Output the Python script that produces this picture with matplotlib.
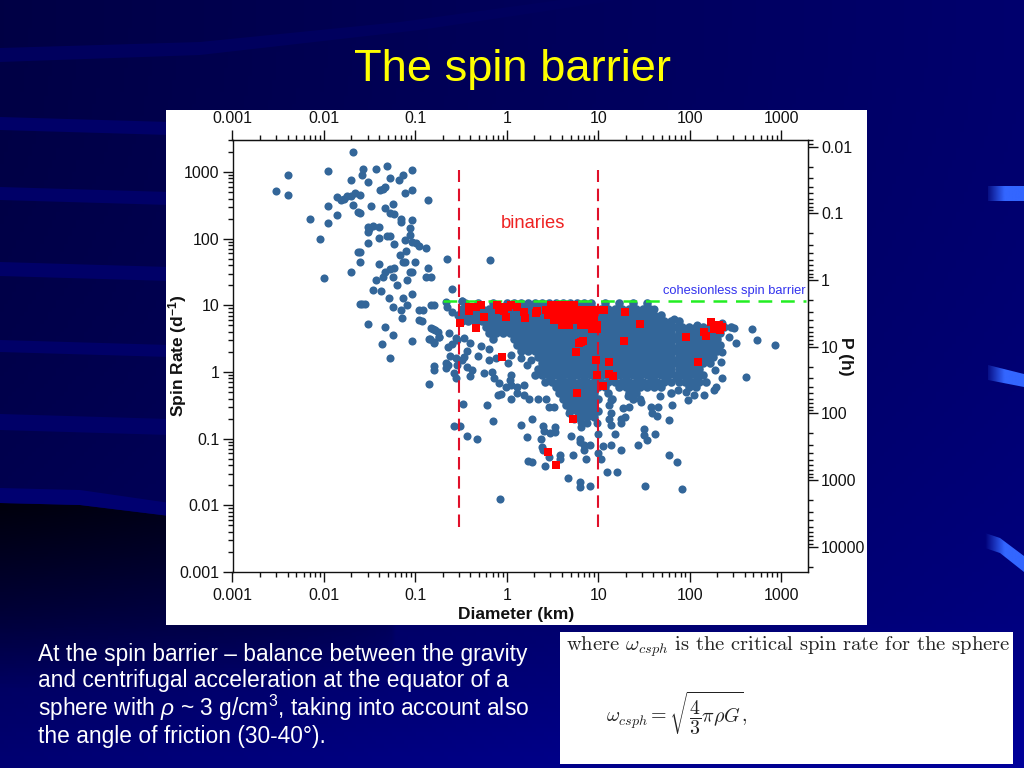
import numpy as np
import matplotlib
matplotlib.use("Agg")
import matplotlib.pyplot as plt
from matplotlib.patches import Polygon, Rectangle

plt.rcParams["font.family"] = ["Liberation Sans", "DejaVu Sans"]
plt.rcParams["mathtext.fontset"] = "custom"
plt.rcParams["mathtext.rm"] = "Liberation Sans"
plt.rcParams["mathtext.it"] = "Liberation Sans:italic"
plt.rcParams["mathtext.bf"] = "Liberation Sans:bold"

# --- isolated asteroids, small diameters (km, 1/day) ---
small_d = [0.003, 0.004, 0.004, 0.007, 0.009, 0.01, 0.011, 0.011, 0.011, 0.014, 0.014, 0.0155, 0.0167, 0.018, 0.02,
           0.022, 0.025, 0.021, 0.02, 0.026, 0.027, 0.0305, 0.037, 0.049, 0.053, 0.0655, 0.074, 0.093, 0.093, 0.078,
           0.047, 0.041, 0.044, 0.021, 0.0235, 0.025, 0.033, 0.047, 0.0575, 0.053, 0.059, 0.0705, 0.0705, 0.091, 0.139,
           0.0865, 0.03, 0.031, 0.034, 0.04, 0.04, 0.0495, 0.053, 0.03, 0.059, 0.078, 0.0865, 0.091, 0.101, 0.11,
           0.13, 0.08, 0.0685, 0.0235, 0.025, 0.025, 0.02, 0.04, 0.074, 0.078, 0.098, 0.139, 0.059, 0.053, 0.047,
           0.044, 0.0575, 0.0625, 0.082, 0.0865, 0.093, 0.13, 0.15, 0.037, 0.22, 0.65, 0.25, 0.034, 0.0425, 0.093,
           0.051, 0.074, 0.025, 0.026, 0.028, 0.0575, 0.082, 0.069, 0.11, 0.15, 0.158, 0.071, 0.11, 0.03, 0.047,
           0.0575, 0.093, 0.043, 0.053, 0.15, 0.165, 0.182, 0.14, 0.16, 0.32, 0.0305]
small_r = [513, 891, 447, 200, 98, 26, 1030, 305, 170, 224, 417, 380, 390, 430, 440,
           485, 447, 2000, 750, 890, 1110, 700, 1110, 1230, 800, 750, 890, 1060, 530, 480,
           590, 530, 560, 316, 250, 240, 305, 285, 327, 240, 232, 195, 175, 189, 375,
           143, 126, 140, 155, 148, 102, 108, 108, 87, 84, 94, 115, 90, 87, 78,
           73, 66, 56, 64, 64, 45, 32, 41, 45, 45, 44, 36, 36, 35, 32,
           27, 27, 20, 24, 32, 32, 27, 27, 24, 50, 48, 17.5, 17, 16.5, 14.6,
           13, 13, 10.3, 10.3, 10.3, 9.6, 10, 8.4, 8.4, 10, 10, 6.4, 6, 5.3, 4.8,
           3.55, 2.9, 2.6, 1.6, 4.5, 4.2, 3.4, 3.1, 2.7, 11.5, 148]

# --- scattered points left of and below the main cloud ---
edge_d = [0.12, 0.117, 0.215, 0.327, 0.224, 0.254, 0.157, 0.177, 0.145, 0.16, 0.182, 0.234, 0.277, 0.228, 0.254, 0.288,
          0.34, 0.4, 0.37, 0.34, 0.52, 0.49, 0.24, 0.275, 0.327, 0.23, 0.215, 0.215, 0.16, 0.16, 0.265, 0.277, 0.288,
          0.37, 0.42, 0.4, 0.141, 0.565, 0.695, 0.73, 0.64, 0.64, 0.76, 1.1, 1.03, 1.1, 1.09, 0.82, 0.98, 1.1, 1.3, 1.55,
          0.8, 0.86, 1.1, 1.3, 1.55, 1.75, 1.42, 1.68, 1.83, 2.17, 2.7, 2.9, 3.3, 0.335, 0.61, 0.265, 0.31, 0.7, 0.37,
          0.477, 1.9, 1.42, 2.5, 3.4, 2.56, 3.0, 3.4, 1.68, 5.0, 6.3, 6.3, 10, 15.2, 2.36, 2.4, 2.5, 2.9, 3.8, 3.8, 1.71,
          1.88, 2.6, 5.3, 7.3, 7.0, 8.1, 7.0, 10, 10.7, 11.4, 13.7, 17.7, 27.3, 31.8, 31.8, 34.5, 41.5, 59.5, 73.6, 12.4,
          16.2, 4.7, 6.3, 6.3, 8.1, 32.3, 83, 0.84, 9.8, 13.2, 13.7, 17.7, 17.7, 19.6, 13.7, 18.5, 21.8, 13.2, 13.7, 29.2,
          37.6, 45, 39, 44.5, 59.5, 47, 64.7, 21, 24.7, 29, 95, 112, 144, 187, 193, 74, 91, 228, 410, 188, 220, 228,
          270, 320, 480, 550, 860, 305, 5.5, 6.5, 7.6, 6.5, 4.8, 68, 122, 170, 228, 41]
edge_r = [8.5, 5.9, 11.1, 11.7, 9.3, 8, 4.4, 4.0, 3.1, 2.85, 3.4, 3.8, 3.2, 2.4, 2.6, 3,
          3.2, 2.7, 2.1, 1.7, 2.45, 1.74, 1.74, 1.6, 1.5, 1.27, 1.35, 1.13, 1.23, 1.07, 0.95, 0.8, 1.27,
          1.2, 1.07, 0.87, 0.66, 0.98, 1, 0.8, 2.2, 1.5, 1.6, 1.8, 1.35, 0.9, 0.76, 0.68, 0.6, 0.64, 0.6, 0.64,
          0.45, 0.47, 0.4, 0.48, 0.45, 0.4, 1.6, 1.27, 1.5, 0.4, 0.4, 0.3, 0.3, 0.33, 0.32, 0.155, 0.155, 0.186, 0.11,
          0.1, 0.2, 0.16, 0.156, 0.15, 0.13, 0.12, 0.127, 0.107, 0.11, 0.1, 0.09, 0.118, 0.118, 0.1, 0.076, 0.068, 0.054, 0.057, 0.05, 0.047,
          0.045, 0.039, 0.057, 0.049, 0.068, 0.08, 0.08, 0.062, 0.049, 0.078, 0.08, 0.068, 0.08, 0.14, 0.113, 0.095, 0.118, 0.057, 0.044, 0.032,
          0.032, 0.026, 0.0225, 0.0186, 0.0195, 0.0195, 0.0176, 0.0125, 0.17, 0.2, 0.16, 0.2, 0.17, 0.21, 0.24, 0.285, 0.3, 0.32, 0.38, 0.36,
          0.3, 0.3, 0.24, 0.22, 0.19, 0.43, 0.32, 0.43, 0.48, 0.4, 0.38, 0.45, 0.45, 0.54, 0.6, 0.54, 0.5, 0.8, 0.85, 1.07, 1.43, 2,
          3.4, 2.75, 4.4, 3, 2.5, 4.5, 0.2, 0.18, 0.17, 0.15, 0.24, 6.3, 5, 5.4, 5.4, 8.7]

# --- dense main cloud, read row by row (rate of the row, diameters along it) ---
cloud_rates = [10.7, 8.7, 7.1, 5.75, 4.68, 3.8, 3.09, 2.51, 2.04, 1.66, 1.35, 1.10, 0.89, 0.72, 0.59, 0.48, 0.39, 0.32, 0.26, 0.21,
               0.8, 1.5, 2.3, 3.4]
cloud_diams = [
    [0.35, 0.49, 0.7, 1, 1.19, 1.42, 1.7, 2.02, 2.41, 2.88, 3.44, 4.1, 4.89, 5.83, 6.96, 8.3, 11.8, 16.8, 23.9, 34.1],
    [0.32, 0.38, 0.45, 0.54, 0.64, 0.77, 0.92, 1.09, 1.3, 1.55, 1.86, 2.21, 2.64, 3.15, 3.76, 4.48, 5.35, 6.38, 7.6, 9.07, 10.8, 12.9, 15.4, 18.4, 21.9, 26.2, 31.2, 37.3],
    [0.29, 0.35, 0.41, 0.49, 0.59, 0.7, 0.84, 1, 1.19, 1.42, 1.7, 2.02, 2.41, 2.88, 3.44, 4.1, 4.89, 5.83, 6.96, 8.3, 9.9, 11.8, 14.1, 16.8, 20.1, 23.9, 28.6, 34.1, 40.7, 48.5],
    [0.32, 0.38, 0.45, 0.54, 0.64, 0.77, 0.92, 1.09, 1.3, 1.55, 1.86, 2.21, 2.64, 3.15, 3.76, 4.48, 5.35, 6.38, 7.6, 9.07, 10.8, 12.9, 15.4, 18.4, 21.9, 26.2, 31.2, 37.3, 44.5, 53, 63, 76],
    [0.59, 0.7, 0.84, 1, 1.19, 1.42, 1.7, 2.02, 2.41, 2.88, 3.44, 4.1, 4.89, 5.83, 6.96, 8.3, 9.9, 11.8, 14.1, 16.8, 20.1, 23.9, 28.6, 34.1, 40.7, 48.5, 57.9, 69, 82.4, 98.3, 117, 140, 167, 199, 237, 283],
    [0.64, 0.77, 0.92, 1.09, 1.3, 1.55, 1.86, 2.21, 2.64, 3.15, 3.76, 4.48, 5.35, 6.38, 7.6, 9.07, 10.8, 12.9, 15.4, 18.4, 21.9, 26.2, 31.2, 37.3, 44.5, 53, 63, 76, 90, 107, 128, 153, 182, 217],
    [0.7, 1.19, 1.42, 1.7, 2.02, 2.41, 2.88, 3.44, 4.1, 4.89, 5.83, 6.96, 8.3, 9.9, 11.8, 14.1, 16.8, 20.1, 23.9, 28.6, 34.1, 40.7, 48.5, 57.9, 69, 82.4, 98.3, 117, 140, 167, 199],
    [1.3, 1.55, 1.86, 2.21, 2.64, 3.15, 3.76, 4.48, 5.35, 6.38, 7.6, 9.07, 10.8, 12.9, 15.4, 18.4, 21.9, 26.2, 31.2, 37.3, 44.5, 53, 63, 76, 90, 107, 128, 153, 182, 217],
    [1.42, 1.7, 2.02, 2.41, 2.88, 3.44, 4.1, 4.89, 5.83, 6.96, 8.3, 9.9, 11.8, 14.1, 16.8, 20.1, 23.9, 28.6, 34.1, 40.7, 48.5, 57.9, 69, 82.4, 98.3, 117, 140, 167, 199],
    [2.21, 2.64, 3.15, 3.76, 4.48, 5.35, 6.38, 7.6, 9.07, 10.8, 12.9, 15.4, 18.4, 21.9, 26.2, 31.2, 37.3, 44.5, 53, 63, 76, 90, 107, 128, 153, 182],
    [2.41, 2.88, 3.44, 4.1, 4.89, 5.83, 6.96, 8.3, 9.9, 11.8, 14.1, 16.8, 20.1, 23.9, 28.6, 34.1, 40.7, 48.5, 57.9, 69, 82.4, 98.3, 117, 140, 167],
    [2.21, 2.64, 3.15, 3.76, 4.48, 5.35, 6.38, 7.6, 9.07, 10.8, 12.9, 15.4, 18.4, 21.9, 26.2, 31.2, 37.3, 44.5, 53, 63, 76, 90, 107, 128],
    [2.02, 2.41, 2.88, 3.44, 4.1, 4.89, 5.83, 6.96, 8.3, 9.9, 11.8, 14.1, 16.8, 20.1, 23.9, 28.6, 34.1, 40.7, 48.5, 57.9, 69, 82.4, 98.3, 117, 140],
    [2.64, 3.15, 3.76, 4.48, 5.35, 6.38, 7.6, 9.07, 10.8, 12.9, 15.4, 18.4, 21.9, 26.2, 31.2, 37.3, 44.5, 53, 63, 76, 90, 107, 128, 153],
    [3.44, 4.1, 4.89, 5.83, 6.96, 8.3, 9.9, 11.8, 16.8, 20.1, 23.9, 28.6, 34.1, 40.7, 48.5, 98.3, 117],
    [3.76, 4.48, 5.35, 6.38, 7.6, 9.07, 12.9, 21.9, 26.2, 63],
    [4.1, 4.89, 5.83, 6.96, 8.3, 9.9, 14.1, 23.9],
    [4.48, 5.35, 6.38, 7.6, 9.07],
    [4.89, 5.83, 6.96, 8.3, 9.9],
    [6.38, 7.6, 9.07],
    [3, 4, 5, 7, 10, 14, 20, 28, 40, 55, 72, 95, 120],
    [3, 4.2, 6, 8.5, 12, 17, 24, 34, 48, 72, 100, 150],
    [2.2, 3.2, 4.6, 6.5, 9.5, 13, 19, 27, 38, 55, 72, 105, 160],
    [1.6, 2.4, 3.5, 5, 7.2, 10.5, 15, 21, 30, 42, 58, 72, 110, 170],
]

# --- binaries (red squares) ---
binary_d = [0.387, 0.46, 0.52, 0.387, 0.306, 0.458, 0.56, 0.88, 0.78, 0.9, 1.02, 1.1, 0.94, 0.83, 0.97, 1.3, 1.55, 1.57, 2.07, 2.16,
            3.03, 3.44, 3.9, 4.6, 5.45, 2.67, 3.16, 3.74, 4.4, 5.2, 6.2, 7.6, 9, 10.7, 11.6, 2.8, 3.3, 3.9, 4.6, 5.45, 6.45, 7.6, 9,
            3.3, 3.9, 4.6, 5.45, 6.45, 7.6, 9, 4.06, 4.8, 6.45, 7.6, 9, 9.8, 8.6, 9.6, 19.6, 28.6, 19.2, 6.45, 6.85, 6.1, 5.7, 9.4,
            13.2, 9.6, 13.2, 14.7, 11.4, 5.83, 5.35, 2.83, 3.5, 92, 124, 142, 150, 170, 186, 213, 225, 210]
binary_r = [8.1, 9.5, 10.1, 9.5, 5.4, 4.5, 6.75, 1.7, 10.1, 9.5, 9.5, 10.1, 8.1, 8.5, 6.75, 9.5, 8, 6.4, 7.6, 8.1,
            10.1, 10.1, 10.1, 10.1, 10.1, 8.5, 8.5, 8.5, 8.5, 8.5, 8.5, 8.5, 8.5, 8.5, 8.5, 7.2, 7.2, 7.2, 7.2, 7.2, 7.2, 7.2, 7.2,
            6, 6, 6, 6, 6, 6, 6, 5.1, 5.1, 5.1, 5.1, 5.1, 5.1, 4.4, 4.4, 8, 5.2, 2.95, 2.85, 2.9, 2.75, 2.0, 1.5,
            1.4, 0.89, 0.92, 0.87, 0.62, 0.48, 0.2, 0.063, 0.04, 3.4, 1.43, 4, 3.5, 5.7, 4.4, 4.25, 4.8, 5]

# --- reference lines and ticks ---
binary_limits = [0.3, 10]
binary_rate_span = [0.0047, 1080]
barrier_rate = 11.6
barrier_span = [0.2, 1860]
tick_values = [0.001, 0.01, 0.1, 1, 10, 100, 1000]
tick_labels = ["0.001", "0.01", "0.1", "1", "10", "100", "1000"]
period_values = [0.01, 0.1, 1, 10, 100, 1000, 10000]
period_labels = ["0.01", "0.1", "1", "10", "100", "1000", "10000"]

fig = plt.figure(figsize=(10.24, 7.68), dpi=100)

# --- slide background, in pixel coordinates ---
bg = fig.add_axes([0, 0, 1, 1])
bg.set_xlim(0, 1024)
bg.set_ylim(768, 0)
bg.axis("off")

xx, yy = np.meshgrid(np.linspace(0, 1, 256), np.linspace(0, 1, 192))
blue = 0.27 + 0.16 * xx + 0.10 * yy ** 2
blue = np.clip(blue + 0.08 * np.clip(yy - 0.8, 0, 1) / 0.2, 0, 1)
bg_img = np.dstack([np.zeros_like(blue), np.zeros_like(blue), blue])
bg.imshow(bg_img, extent=[0, 1024, 768, 0], aspect="auto", zorder=0)

# faint wavy bands on the left
band_colour = "#000068"
bg.add_patch(Polygon([(0, 48), (200, 42), (400, 22), (560, 0), (620, 0), (420, 30), (200, 55), (0, 62)], fc="#00005e", ec="none", zorder=1))
for top, bottom in [(117, 130), (187, 200), (262, 276), (340, 352), (414, 430)]:
    bg.add_patch(Polygon([(0, top), (170, top + 5), (170, bottom + 5), (0, bottom)], fc=band_colour, ec="none", zorder=1))

# dark wedge in the lower left, fading towards the bottom
wedge = np.zeros((128, 64, 4))
wedge[:, :, 3] = 0.85 * np.clip(1.0 - np.linspace(0, 1, 128), 0, 1)[:, None] * np.clip(1.0 - np.linspace(0, 1, 64), 0, 1)[None, :] ** 0.25
wedge_img = bg.imshow(wedge, extent=[0, 400, 690, 503], aspect="auto", zorder=2)
wedge_clip = Polygon([(0, 503), (80, 505), (170, 516), (400, 560), (400, 690), (0, 690)], transform=bg.transData)
wedge_img.set_clip_path(wedge_clip)
bg.add_patch(Polygon([(0, 488), (80, 490), (170, 503), (170, 516), (80, 505), (0, 503)], fc="#000070", ec="none", zorder=3))

# bright blobs at the right edge
blob = np.zeros((4, 64, 4))
blob[:, :, 0] = 0.2
blob[:, :, 1] = 0.4
blob[:, :, 2] = 1.0
blob[:, :, 3] = np.minimum(np.linspace(0, 2.0, 64), 1.0)
for poly in [[(988, 186), (1024, 186), (1024, 201), (988, 201)],
             [(988, 365), (1024, 374), (1024, 387), (988, 380)],
             [(985, 533), (1000, 538), (1024, 556), (1024, 572), (1000, 553), (985, 548)]]:
    img = bg.imshow(blob, extent=[985, 1024, 590, 180], aspect="auto", zorder=2)
    img.set_clip_path(Polygon(poly, transform=bg.transData))
bg.set_xlim(0, 1024)
bg.set_ylim(768, 0)

# white panels
bg.add_patch(Rectangle((166, 110), 701, 515, fc="white", ec="none", zorder=4))
bg.add_patch(Rectangle((560, 632), 453, 132, fc="white", ec="none", zorder=4))

# --- slide text ---
bg.text(512, 70, "The spin barrier", color="#ffff00", fontsize=32.6, ha="center", va="center", zorder=5)
para_lines = ["At the spin barrier \u2013 balance between the gravity",
              "and centrifugal acceleration at the equator of a",
              r"sphere with $\rho$ ~ 3 g/cm$^3$, taking into account also",
              "the angle of friction (30-40\u00b0)."]
for line_y, line in zip([654, 681, 708, 736], para_lines):
    bg.text(38, line_y, line, color="white", fontsize=16.4, ha="left", va="center", zorder=5)

bg.text(566, 647, r"where $\omega_{csph}$ is the critical spin rate for the sphere", family="cmr10",
        math_fontfamily="cm", fontsize=14.8, color="#222222", ha="left", va="center", zorder=5)
bg.text(606, 713, r"$\omega_{csph} = \sqrt{\dfrac{4}{3}\pi\rho G},$", math_fontfamily="cm",
        fontsize=14.4, color="#222222", ha="left", va="center", zorder=5)

# --- main chart ---
ax = fig.add_axes([232.5 / 1024, 1 - 572 / 768, 575.5 / 1024, 432 / 768])
ax.patch.set_alpha(0)
ax.set_xscale("log")
ax.set_yscale("log")
ax.set_xlim(0.001, 1973)
ax.set_ylim(0.001, 3020)

cloud_d = [d for row in cloud_diams for d in row]
cloud_r = [r for r, row in zip(cloud_rates, cloud_diams) for d in row]
dot_colour = "#336699"
ax.scatter(small_d, small_r, s=34, c=dot_colour, linewidths=0, zorder=3)
ax.scatter(edge_d, edge_r, s=34, c=dot_colour, linewidths=0, zorder=3)
ax.scatter(cloud_d, cloud_r, s=38, c=dot_colour, linewidths=0, zorder=3)

ax.plot(barrier_span, [barrier_rate, barrier_rate], color="#22ee22", lw=1.8, dashes=(5.5, 3.5), zorder=4)
for limit in binary_limits:
    ax.plot([limit, limit], binary_rate_span, color="#e0102a", lw=1.5, dashes=(6, 3.2), zorder=4)
ax.scatter(binary_d, binary_r, s=30, c="#ff0000", marker="s", linewidths=0, zorder=5)

ax.text(1.93, 166, "binaries", color="#ee2222", fontsize=13.2, ha="center", va="center")
ax.text(1877, 16.5, "cohesionless spin barrier", color="#3333ee", fontsize=9.3, ha="right", va="center")

# tick styling shared by all four sides
def style_axis(axis_obj, which_side, pad=2.5):
    axis_obj.tick_params(axis=which_side, which="major", length=7, width=1, labelsize=11.5, pad=pad, colors="#111111")
    axis_obj.tick_params(axis=which_side, which="minor", length=3.6, width=1, colors="#111111")

ax.set_xticks(tick_values, tick_labels)
ax.set_yticks(tick_values, tick_labels)
ax.xaxis.set_minor_locator(matplotlib.ticker.LogLocator(base=10, subs=range(2, 10), numticks=12))
ax.yaxis.set_minor_locator(matplotlib.ticker.LogLocator(base=10, subs=range(2, 10), numticks=12))
ax.xaxis.set_minor_formatter(matplotlib.ticker.NullFormatter())
ax.yaxis.set_minor_formatter(matplotlib.ticker.NullFormatter())
style_axis(ax, "x", pad=4.5)
style_axis(ax, "y")

top = ax.secondary_xaxis("top")
top.set_xticks(tick_values, tick_labels)
top.xaxis.set_minor_locator(matplotlib.ticker.LogLocator(base=10, subs=range(2, 10), numticks=12))
top.xaxis.set_minor_formatter(matplotlib.ticker.NullFormatter())
style_axis(top, "x", pad=3)

right = ax.secondary_yaxis("right", functions=(lambda r: 24.0 / r, lambda p: 24.0 / p))
right.set_yticks(period_values, period_labels)
right.yaxis.set_minor_locator(matplotlib.ticker.LogLocator(base=10, subs=range(2, 10), numticks=12))
right.yaxis.set_minor_formatter(matplotlib.ticker.NullFormatter())
style_axis(right, "y")
right.set_ylabel("P (h)", fontsize=12.5, fontweight="bold", rotation=270, labelpad=-9, color="#111111")

ax.set_xlabel("Diameter (km)", fontsize=12.5, fontweight="bold", color="#111111")
ax.xaxis.set_label_coords(0.4926, -0.081)
ax.set_ylabel(r"Spin Rate (d$^{\mathbf{-1}}$)", fontsize=12.5, fontweight="bold", color="#111111")
ax.yaxis.set_label_coords(-0.0757, 0.502)

for side in ["left", "bottom", "top", "right"]:
    ax.spines[side].set_linewidth(1)
    ax.spines[side].set_color("#111111")

fig.savefig("out.png", dpi=100)
